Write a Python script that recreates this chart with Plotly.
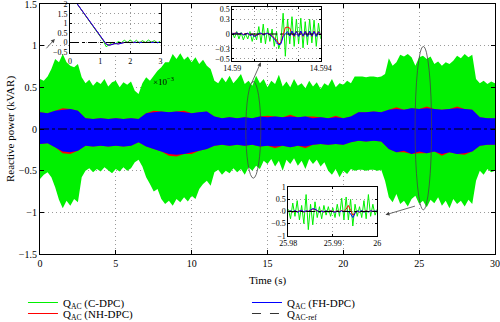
import plotly.graph_objects as go

SERIF = "Liberation Serif"
GREEN = "#00f000"
RED = "#ff0000"
BLUE = "#0000ff"

# ---------------- main chart: envelopes of the noisy signals (kVAR) ----------------
t_env = [i * 0.25 for i in range(121)]          # sampling grid of the envelope read-out (s)
green_upper = [0.60, 0.58, 0.63, 0.72, 0.84, 0.80, 0.90, 0.80, 0.76, 0.74,
               0.78, 0.62, 0.55, 0.59, 0.52, 0.57, 0.54, 0.60, 0.51, 0.56,
               0.58, 0.50, 0.56, 0.53, 0.57, 0.46, 0.42, 0.55, 0.62, 0.58,
               0.64, 0.70, 0.74, 0.80, 0.80, 0.90, 0.84, 0.91, 0.83, 0.87,
               0.80, 0.86, 0.78, 0.83, 0.76, 0.72, 0.58, 0.55, 0.62, 0.56,
               0.64, 0.55, 0.60, 0.66, 0.54, 0.58, 0.52, 0.64, 0.55, 0.60,
               0.50, 0.58, 0.54, 0.65, 0.51, 0.57, 0.50, 0.60, 0.52, 0.55,
               0.49, 0.58, 0.51, 0.56, 0.48, 0.55, 0.52, 0.60, 0.50, 0.55,
               0.53, 0.58, 0.55, 0.63, 0.63, 0.63, 0.62, 0.63, 0.63, 0.62,
               0.63, 0.66, 0.85, 0.76, 0.80, 0.89, 0.87, 0.90, 0.86, 0.76,
               0.86, 0.88, 0.84, 0.87, 0.78, 0.81, 0.76, 0.80, 0.78, 0.82,
               0.88, 0.85, 0.90, 0.86, 0.89, 0.60, 0.55, 0.58, 0.54, 0.57,
               0.55]
green_lower = [-0.60, -0.55, -0.52, -0.58, -0.70, -0.85, -0.95, -0.86, -0.92, -0.84,
               -0.88, -0.58, -0.50, -0.47, -0.52, -0.48, -0.51, -0.46, -0.50, -0.53,
               -0.48, -0.51, -0.46, -0.50, -0.47, -0.40, -0.37, -0.45, -0.58, -0.66,
               -0.75, -0.72, -0.84, -0.90, -0.86, -0.92, -0.84, -0.88, -0.82, -0.87,
               -0.80, -0.84, -0.72, -0.66, -0.62, -0.68, -0.52, -0.49, -0.55, -0.50,
               -0.53, -0.47, -0.52, -0.48, -0.55, -0.46, -0.50, -0.44, -0.48, -0.38,
               -0.42, -0.36, -0.45, -0.38, -0.50, -0.37, -0.42, -0.35, -0.44, -0.38,
               -0.48, -0.36, -0.42, -0.37, -0.45, -0.40, -0.50, -0.55, -0.48, -0.58,
               -0.50, -0.54, -0.48, -0.50, -0.49, -0.49, -0.50, -0.49, -0.49, -0.50,
               -0.49, -0.62, -0.82, -0.88, -0.78, -0.90, -0.86, -0.93, -0.84, -0.80,
               -0.90, -0.86, -0.94, -0.85, -0.89, -0.82, -0.92, -0.86, -0.95, -0.84,
               -0.90, -0.86, -0.93, -0.85, -0.90, -0.62, -0.50, -0.55, -0.48, -0.52,
               -0.50]

t_band = [i * 0.5 for i in range(61)]
blue_upper = [0.20, 0.19, 0.22, 0.23, 0.24, 0.22, 0.13, 0.12, 0.13, 0.12,
              0.13, 0.12, 0.13, 0.12, 0.19, 0.20, 0.21, 0.20, 0.21, 0.20,
              0.19, 0.20, 0.21, 0.15, 0.13, 0.14, 0.13, 0.14, 0.13, 0.15,
              0.14, 0.15, 0.14, 0.15, 0.14, 0.15, 0.13, 0.14, 0.13, 0.14,
              0.13, 0.15, 0.20, 0.20, 0.21, 0.20, 0.23, 0.24, 0.23, 0.25,
              0.24, 0.25, 0.24, 0.23, 0.24, 0.25, 0.24, 0.23, 0.14, 0.13,
              0.13]
blue_lower = [-0.18, -0.17, -0.22, -0.27, -0.28, -0.26, -0.20, -0.21, -0.20, -0.21,
              -0.20, -0.21, -0.20, -0.16, -0.21, -0.24, -0.27, -0.30, -0.31, -0.30,
              -0.28, -0.26, -0.24, -0.20, -0.19, -0.20, -0.19, -0.20, -0.19, -0.21,
              -0.20, -0.21, -0.20, -0.22, -0.20, -0.21, -0.19, -0.18, -0.19, -0.18,
              -0.19, -0.16, -0.14, -0.15, -0.14, -0.15, -0.24, -0.28, -0.26, -0.30,
              -0.27, -0.29, -0.27, -0.30, -0.28, -0.30, -0.29, -0.27, -0.20, -0.19,
              -0.19]
red_upper = [0.20, 0.19, 0.22, 0.25, 0.24, 0.22, 0.13, 0.12, 0.13, 0.12,
             0.13, 0.12, 0.13, 0.12, 0.19, 0.22, 0.21, 0.20, 0.21, 0.22,
             0.19, 0.20, 0.21, 0.15, 0.13, 0.14, 0.13, 0.14, 0.13, 0.15,
             0.16, 0.15, 0.14, 0.17, 0.14, 0.15, 0.15, 0.14, 0.13, 0.16,
             0.13, 0.15, 0.20, 0.20, 0.21, 0.20, 0.23, 0.26, 0.23, 0.25,
             0.24, 0.27, 0.24, 0.23, 0.24, 0.27, 0.24, 0.23, 0.14, 0.13,
             0.13]
red_lower = [-0.18, -0.17, -0.22, -0.29, -0.30, -0.26, -0.20, -0.21, -0.20, -0.21,
             -0.20, -0.21, -0.20, -0.16, -0.21, -0.24, -0.27, -0.32, -0.33, -0.30,
             -0.30, -0.26, -0.24, -0.20, -0.19, -0.20, -0.19, -0.20, -0.19, -0.21,
             -0.20, -0.23, -0.20, -0.22, -0.20, -0.23, -0.19, -0.18, -0.19, -0.18,
             -0.19, -0.16, -0.14, -0.15, -0.14, -0.15, -0.24, -0.28, -0.28, -0.30,
             -0.29, -0.29, -0.27, -0.32, -0.28, -0.30, -0.31, -0.27, -0.20, -0.19,
             -0.19]
ref_t = [0, 30]
ref_q = [0, 0]

# ---------------- inset 1: start-up (time in ms, x10^-3 s) ----------------
ins1_t = [0, 0.2, 0.4, 0.6, 0.8, 1.0, 1.1, 1.2, 1.3, 1.4, 1.5, 1.6, 1.7,
          1.8, 1.9, 2.0, 2.1, 2.2, 2.3, 2.4, 2.5, 2.6, 2.7, 2.8, 2.9, 3.0]
ins1_green = [2.55, 2.11, 1.67, 1.22, 0.78, 0.33, 0.10, -0.22, -0.10, 0.00, -0.08, 0.05, -0.02,
              0.12, 0.00, 0.14, -0.02, 0.12, -0.03, 0.10, 0.00, 0.13, 0.02, 0.10, -0.02, 0.08]
ins1_red = [2.55, 2.11, 1.67, 1.22, 0.78, 0.33, 0.09, -0.09, -0.14, -0.09, -0.05, -0.07, -0.02,
            0.00, 0.01, 0.00, 0.01, 0.00, 0.01, 0.00, 0.01, 0.00, 0.01, 0.00, 0.01, 0.00]
ins1_blue = [2.55, 2.11, 1.67, 1.22, 0.78, 0.33, 0.08, -0.08, -0.15, -0.10, -0.05, -0.08, -0.02,
             0.00, 0.01, -0.01, 0.01, 0.00, 0.01, -0.01, 0.00, 0.01, 0.00, 0.01, 0.00, 0.00]
ins1_ref_t = [0, 3]
ins1_ticks = [0, 1, 2, 3]

# ---------------- inset 2: 14.59 - 14.594 s ----------------
ins2_t = [round(14.59 + 0.0001 * i, 4) for i in range(41)]
ins2_green = [0.02, -0.08, 0.05, -0.10, 0.03, -0.12, 0.00, -0.10, 0.05, -0.15,
              0.02, -0.12, 0.15, -0.18, 0.20, -0.20, 0.12, -0.15, 0.10, -0.25,
              0.05, -0.30, -0.15, 0.42, -0.45, 0.30, -0.20, 0.35, -0.25, 0.30,
              -0.20, 0.32, -0.28, 0.25, -0.22, 0.30, -0.18, 0.28, -0.25, 0.22,
              -0.10]
ins2_red = [0.01, 0.01, 0.02, 0.00, 0.01, -0.01, 0.01, 0.01, -0.02, 0.00,
            -0.04, -0.02, 0.00, 0.01, -0.01, 0.01, 0.01, -0.01, -0.04, -0.08,
            -0.12, -0.20, -0.18, -0.02, 0.13, 0.14, 0.12, 0.00, -0.05, 0.06,
            -0.04, 0.05, -0.05, 0.06, -0.03, 0.05, -0.05, 0.06, -0.04, 0.05,
            0.00]
ins2_blue = [0.02, 0.00, 0.03, -0.01, 0.02, -0.02, 0.00, 0.02, -0.03, -0.01,
             -0.05, -0.03, 0.01, 0.02, -0.02, 0.00, 0.02, -0.02, -0.05, -0.10,
             -0.15, -0.22, -0.20, -0.05, 0.00, 0.05, -0.04, 0.06, -0.04, 0.05,
             -0.05, 0.06, -0.04, 0.05, -0.05, 0.06, -0.04, 0.05, -0.05, 0.04,
             0.00]
ins2_ref_t = [14.59, 14.594]

# ---------------- inset 3: 25.98 - 26 s ----------------
ins3_t = [round(25.98 + 0.0005 * i, 4) for i in range(41)]
ins3_green = [0.10, -0.30, 0.35, -0.20, 0.45, -0.35, 0.25, -0.50, 0.70, -0.75,
              0.30, -0.55, 0.40, -0.25, 0.20, -0.30, 0.25, -0.15, 0.20, -0.20,
              0.15, -0.25, 0.30, -0.20, 0.55, -0.35, 0.60, -0.35, 0.50, -0.60,
              0.30, -0.20, 0.20, -0.25, 0.45, -0.30, 0.70, -0.20, 0.30, -0.15,
              0.10]
ins3_red = [0.01, 0.02, -0.03, 0.03, -0.02, 0.03, 0.04, -0.03, 0.02, 0.01,
            0.05, 0.10, 0.08, 0.03, -0.02, 0.03, -0.03, 0.02, -0.01, 0.03,
            0.01, -0.02, 0.03, -0.01, 0.04, 0.00, 0.10, 0.25, 0.05, -0.15,
            -0.05, 0.02, -0.03, 0.03, -0.02, 0.03, -0.01, 0.02, 0.01, 0.01,
            0.00]
ins3_blue = [0.00, 0.03, -0.02, 0.04, -0.03, 0.02, 0.05, -0.02, 0.03, 0.00,
             0.06, 0.12, 0.10, 0.02, -0.03, 0.02, -0.02, 0.03, -0.02, 0.02,
             0.00, -0.03, 0.02, -0.02, 0.03, -0.02, 0.02, 0.00, -0.10, -0.25,
             -0.08, 0.03, -0.02, 0.04, -0.03, 0.02, -0.02, 0.03, 0.00, 0.02,
             0.00]
ins3_ref_t = [25.98, 26.0]

for a, b in [(t_env, green_upper), (t_env, green_lower), (t_band, blue_upper), (t_band, blue_lower),
             (t_band, red_upper), (t_band, red_lower), (ins1_t, ins1_green), (ins1_t, ins1_red),
             (ins1_t, ins1_blue), (ins2_t, ins2_green), (ins2_t, ins2_red), (ins2_t, ins2_blue),
             (ins3_t, ins3_green), (ins3_t, ins3_red), (ins3_t, ins3_blue)]:
    assert len(a) == len(b), (len(a), len(b))

# legend entries: (name, colour, dash, legend row, rank in row)
legend_entries = [
    ("Q<sub>AC</sub> (C-DPC)", GREEN, "solid", "legend", 1),
    ("Q<sub>AC</sub> (FH-DPC)", BLUE, "solid", "legend", 2),
    ("Q<sub>AC</sub> (NH-DPC)", RED, "solid", "legend2", 1),
    ("Q<sub>AC-ref</sub>", "#333333", "dash", "legend2", 2),
]

fig = go.Figure()


def band(t, up, lo, color):
    return go.Scatter(x=list(t) + list(t)[::-1], y=list(up) + list(lo)[::-1],
                      fill="toself", fillcolor=color, mode="lines",
                      line=dict(width=0, color=color), showlegend=False,
                      hoverinfo="skip", xaxis="x", yaxis="y")


fig.add_trace(band(t_env, green_upper, green_lower, GREEN))
fig.add_trace(band(t_band, red_upper, red_lower, RED))
fig.add_trace(band(t_band, blue_upper, blue_lower, BLUE))
fig.add_trace(go.Scatter(x=ref_t, y=ref_q, mode="lines", showlegend=False,
                         line=dict(color="black", width=1, dash="dashdot"),
                         xaxis="x", yaxis="y"))

# insets
insets = [
    ("x2", "y2", ins1_t, ins1_green, ins1_red, ins1_blue, ins1_ref_t),
    ("x3", "y3", ins2_t, ins2_green, ins2_red, ins2_blue, ins2_ref_t),
    ("x4", "y4", ins3_t, ins3_green, ins3_red, ins3_blue, ins3_ref_t),
]
for xa, ya, t, g, r, b, rt in insets:
    for vals, col in [(g, GREEN), (r, RED), (b, BLUE)]:
        fig.add_trace(go.Scatter(x=t, y=vals, mode="lines", line=dict(color=col, width=1),
                                 showlegend=False, xaxis=xa, yaxis=ya))
    fig.add_trace(go.Scatter(x=rt, y=ref_q, mode="lines", line=dict(color="black", width=1, dash="dashdot"),
                             showlegend=False, xaxis=xa, yaxis=ya))

# legend-only entries
for name, col, dash, leg, rank in legend_entries:
    fig.add_trace(go.Scatter(x=[None], y=[None], mode="lines", name=name, legend=leg, legendrank=rank,
                             line=dict(color=col, width=1, dash=dash), showlegend=True,
                             xaxis="x", yaxis="y"))


def axstyle(size=10, ticklen=4, **kw):
    d = dict(showline=True, linecolor="black", linewidth=1, mirror="ticks",
             ticks="inside", ticklen=ticklen, tickcolor="black", tickwidth=1,
             showgrid=True, gridcolor="#9a9a9a", griddash="1px,3px", gridwidth=1,
             zeroline=False, automargin=False, ticklabeloverflow="allow",
             tickfont=dict(family=SERIF, size=size, color="black"))
    d.update(kw)
    return d


W = 455.0  # plot-area width in px (for placing the insets)


def px_x(a, b):
    return [(a - 40) / W, (b - 40) / W]


def px_y(top, bottom):
    return [(254 - bottom) / 250, (254 - top) / 250]


legend_common = dict(orientation="h", x=-0.0374, xanchor="left", yanchor="top",
                     entrywidth=179, font=dict(family=SERIF, size=11),
                     bgcolor="rgba(0,0,0,0)", traceorder="normal")

fig.update_layout(
    width=500, height=322,
    margin=dict(l=40, r=5, t=4, b=68, autoexpand=False),
    paper_bgcolor="white", plot_bgcolor="white",
    font=dict(family=SERIF, size=11, color="black"),
    xaxis=axstyle(domain=[0, 1], range=[0, 30], tickvals=[0, 5, 10, 15, 20, 25, 30], anchor="y",
                  title=dict(text="Time (s)", font=dict(family=SERIF, size=11), standoff=8)),
    yaxis=axstyle(domain=[0, 1], range=[-1.5, 1.5], tickvals=[-1.5, -1, -0.5, 0, 0.5, 1, 1.5], anchor="x",
                  title=dict(text="Reactive power (kVAR)", font=dict(family=SERIF, size=11), standoff=2)),
    xaxis2=axstyle(size=8, ticklen=2, domain=px_x(70, 160.5), range=[0, 3], tickvals=ins1_ticks,
                   anchor="y2"),
    yaxis2=axstyle(size=8, ticklen=2, domain=px_y(4, 53), range=[-0.55, 2.02],
                   tickvals=[-0.5, 0, 0.5, 1, 1.5, 2], anchor="x2"),
    xaxis3=axstyle(size=8, ticklen=2, domain=px_x(232.3, 320.7), range=[14.59, 14.594],
                   tickvals=[14.59, 14.591, 14.592, 14.593, 14.594],
                   ticktext=["14.59", " ", " ", " ", "14.594"], anchor="y3"),
    yaxis3=axstyle(size=8, ticklen=2, domain=px_y(7.3, 60.7), range=[-0.54, 0.54],
                   tickvals=[-0.5, -0.3, 0, 0.3, 0.5], anchor="x3"),
    xaxis4=axstyle(size=8, ticklen=2, domain=px_x(288.3, 377.3), range=[25.98, 26.0],
                   tickvals=[25.98, 25.99, 26.0], ticktext=["25.98", "25.99", "26"], anchor="y4"),
    yaxis4=axstyle(size=8, ticklen=2, domain=px_y(187.3, 235.7), range=[-1, 1],
                   tickvals=[-1, -0.5, 0, 0.5, 1], anchor="x4"),
    legend=dict(y=(254 - 288) / 250, **legend_common),
    legend2=dict(y=(254 - 299) / 250, **legend_common),
    showlegend=True,
)

# ellipses marking the zoomed regions
for x0, x1, y0, y1 in [(13.57, 14.56, -0.59, 0.57), (24.73, 25.82, -0.97, 0.99)]:
    fig.add_shape(type="circle", xref="x", yref="y", x0=x0, x1=x1, y0=y0, y1=y1,
                  line=dict(color="#444444", width=0.8))

# arrows pointing to insets
for hx, hy, tx, ty in [(0.98, 1.08, 0.33, 0.95), (14.56, 0.80, 13.9, 0.53), (22.78, -1.03, 24.82, -0.92)]:
    fig.add_annotation(x=hx, y=hy, ax=tx, ay=ty, xref="x", yref="y", axref="x", ayref="y",
                       text="", showarrow=True, arrowhead=2, arrowsize=1, arrowwidth=0.8,
                       arrowcolor="#444444", standoff=0, startstandoff=0)

fig.add_annotation(x=(151 - 40) / W, y=(254 - 73) / 250, xref="paper", yref="paper",
                   text="×10<sup>−3</sup>", showarrow=False, font=dict(family=SERIF, size=9))

fig.write_html("out.html")
